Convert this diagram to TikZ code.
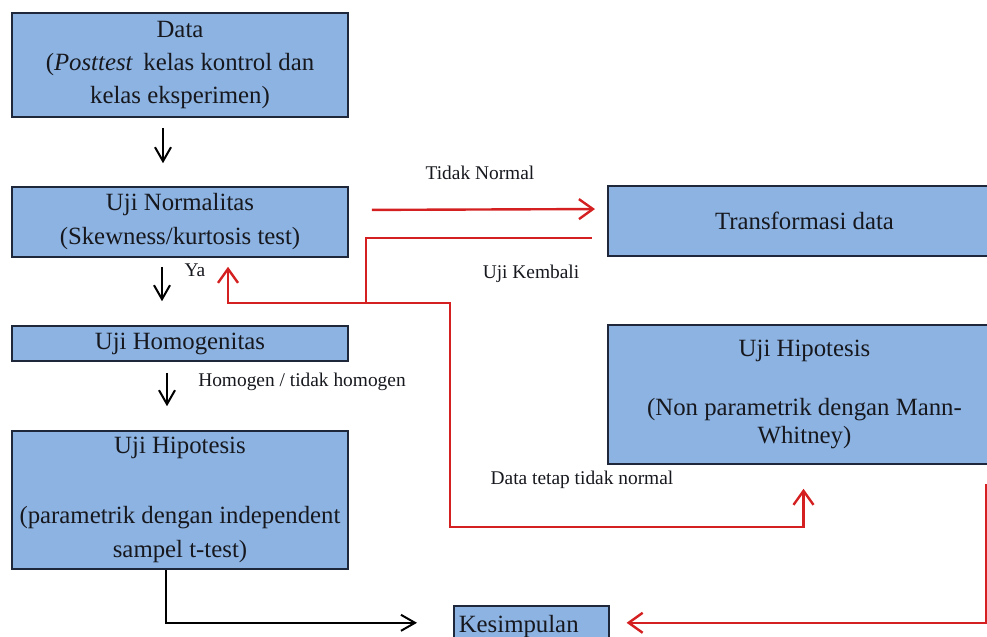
\documentclass[tikz,border=0pt]{standalone}
\usepackage{fontspec}
\setmainfont{Liberation Serif}
\usepackage{tikz}
\usetikzlibrary{calc,arrows.meta}
\definecolor{boxfill}{RGB}{141,179,226}
\definecolor{boxline}{RGB}{30,40,58}
\definecolor{flowred}{RGB}{212,32,32}
\definecolor{inktext}{RGB}{22,24,30}
\tikzset{
    flowbox/.style={draw=boxline, line width=0.8pt, fill=boxfill, inner sep=1pt,
        align=center, text=inktext, font=\fontsize{12.4}{17}\selectfont},
    notetext/.style={inner sep=0pt, text=inktext, font=\fontsize{9.7}{11}\selectfont},
    redflow/.style={draw=flowred, line width=1.2pt, -{Straight Barb[length=7pt, width=10pt]}},
    blackflow/.style={draw=black, line width=1pt, -{Straight Barb[length=7pt, width=8pt]}}
}
\begin{document}
\begin{tikzpicture}[x=0.5pt, y=-0.5pt]
            \useasboundingbox (0,0) rectangle (987,637);
            \clip (0,0) rectangle (987,637);
            \node[flowbox, minimum width=168pt, minimum height=52pt, font=\fontsize{12.4}{16.5}\selectfont] (data) at (180,65)
                {Data\\(\textit{Posttest}\, kelas kontrol dan\\kelas eksperimen)};
            \node[flowbox, minimum width=168pt, minimum height=35pt] (normal) at (180,222)
                {Uji Normalitas\\(Skewness/kurtosis test)};
            \node[flowbox, minimum width=168pt, minimum height=17.5pt] (homog) at (180,343.5) {Uji Homogenitas};
            \node[flowbox, minimum width=168pt, minimum height=69pt] (hipo) at (180,500)
                {Uji Hipotesis\\[18pt](parametrik dengan independent\\sampel t-test)};
            \node[flowbox, minimum width=196.5pt, minimum height=35pt] (trans) at (804.5,221) {Transformasi data};
            \node[flowbox, minimum width=196.5pt, minimum height=69.5pt] (hipnon) at (804.5,394.5)
                {Uji Hipotesis\\[12.5pt](Non parametrik dengan Mann-\\[-3pt]Whitney)};
            \node[flowbox, anchor=north west, minimum width=77.5pt, minimum height=21pt, text width=72.5pt,
                inner xsep=2.5pt, align=left] (kes) at (453,605) {Kesimpulan};

            \node[notetext] (ya) at (195,270) {Ya};
            \node[notetext] (homtxt) at (302,382) {Homogen / tidak homogen};
            \node[notetext] (tidak) at (480,173) {Tidak Normal};
            \node[notetext] (kembali) at (531,274) {Uji Kembali};
            \node[notetext] (tetap) at (582,480) {Data tetap tidak normal};

            \coordinate (jn) at (366,303);
            \coordinate (low) at (450,527);
            \coordinate (rout) at (986,484);

            \draw[blackflow, shorten <=5pt, shorten >=11.5pt] ([xshift=-8.5pt]data.south) -- ([xshift=-8.5pt]normal.north);
            \draw[blackflow, shorten <=4.5pt, shorten >=12pt] ([xshift=-9pt]normal.south) -- ([xshift=-9pt]homog.north);
            \draw[blackflow, shorten <=5.5pt, shorten >=12pt] ([xshift=-6.5pt]homog.south) -- ([xshift=-6.5pt]hipo.north);
            \draw[blackflow, shorten >=18pt] ([xshift=-7pt]hipo.south) |- ([yshift=2pt]kes.west);

            \draw[redflow, shorten <=11.5pt, shorten >=6.5pt] ([yshift=6pt]normal.east) -- ([yshift=6pt,xshift=-98.25pt]trans.center);
            \draw[redflow, shorten >=4.5pt] ([yshift=-8.5pt,xshift=-106.5pt]trans.center) -| (jn) -| ([xshift=24pt]normal.south);
            \draw[redflow, shorten >=12pt] (jn) -| (low) -| ([xshift=-0.5pt]hipnon.south);
            \draw[redflow, shorten >=8.5pt] (rout) |- ([yshift=2pt]kes.east);
        \end{tikzpicture}
\end{document}
